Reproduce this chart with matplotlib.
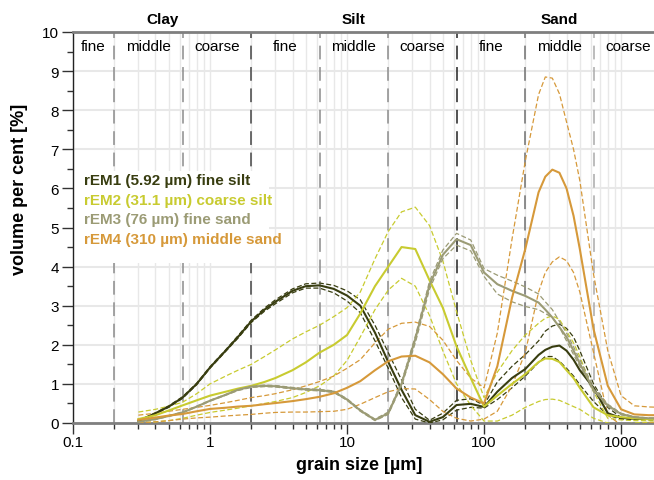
import numpy as np
import matplotlib.pyplot as plt
from matplotlib.patches import Rectangle
from matplotlib.ticker import FixedLocator, LogLocator, NullFormatter

plt.rcParams['font.family'] = ['Liberation Sans', 'DejaVu Sans']

# grain size classes (µm)
size_um = [0.3, 0.4, 0.5, 0.63, 0.8, 1, 1.3, 1.6, 2, 2.5, 3, 4, 5, 6.3, 8,
           10, 12.5, 16, 20, 25, 31.5, 40, 50, 63, 80, 100,
           125, 160, 200, 250, 280, 315, 355, 400, 450, 500, 630, 800,
           1000, 1250, 1600, 2000]

# robust end-members: mean and the two bounds (volume %)
rem1 = [0.05, 0.25, 0.42, 0.65, 1.0, 1.42, 1.85, 2.2, 2.6, 2.9, 3.1, 3.38, 3.5, 3.52, 3.43,
        3.26, 3.0, 2.31, 1.56, 0.85, 0.2, 0.03, 0.15, 0.46, 0.49, 0.41,
        0.8, 1.15, 1.38, 1.74, 1.87, 1.95, 1.98, 1.85, 1.62, 1.35, 0.9, 0.25,
        0.13, 0.11, 0.1, 0.1]
rem1_hi = [0.06, 0.26, 0.44, 0.67, 1.02, 1.44, 1.87, 2.23, 2.63, 2.94, 3.15, 3.43, 3.56, 3.58, 3.52,
           3.38, 3.15, 2.5, 1.8, 1.1, 0.35, 0.07, 0.25, 0.58, 0.62, 0.46,
           1.05, 1.45, 1.75, 2.1, 2.35, 2.48, 2.53, 2.42, 2.2, 1.85, 1.0, 0.4,
           0.14, 0.11, 0.1, 0.1]
rem1_lo = [0.04, 0.24, 0.4, 0.63, 0.98, 1.4, 1.83, 2.17, 2.57, 2.86, 3.05, 3.33, 3.45, 3.45, 3.33,
           3.12, 2.82, 2.1, 1.4, 0.65, 0.1, 0.0, 0.08, 0.33, 0.4, 0.38,
           0.6, 0.9, 1.2, 1.55, 1.7, 1.7, 1.58, 1.4, 1.2, 0.98, 0.55, 0.2,
           0.1, 0.09, 0.09, 0.09]

rem2 = [0.1, 0.2, 0.32, 0.45, 0.58, 0.7, 0.8, 0.88, 0.95, 1.05, 1.15, 1.35, 1.55, 1.8, 2.0,
        2.25, 2.8, 3.5, 4.0, 4.5, 4.45, 3.65, 2.95, 1.96, 1.15, 0.42,
        0.7, 1.0, 1.25, 1.56, 1.65, 1.64, 1.56, 1.35, 1.15, 0.9, 0.4, 0.2,
        0.15, 0.12, 0.1, 0.1]
rem2_hi = [0.28, 0.35, 0.43, 0.53, 0.75, 1.0, 1.2, 1.35, 1.5, 1.7, 1.87, 2.15, 2.33, 2.5, 2.72,
           2.95, 3.35, 4.2, 4.9, 5.4, 5.52, 5.05, 4.15, 2.85, 1.6, 0.65,
           1.3, 1.85, 2.25, 2.55, 2.68, 2.74, 2.65, 2.35, 2.05, 1.7, 0.8, 0.12,
           0.08, 0.06, 0.06, 0.06]
rem2_lo = [0.0, 0.03, 0.06, 0.12, 0.2, 0.27, 0.33, 0.38, 0.44, 0.5, 0.55, 0.65, 0.78, 0.95, 1.2,
           1.6, 2.2, 2.9, 3.4, 3.7, 3.5, 2.75, 1.85, 1.0, 0.45, 0.05,
           0.05, 0.2, 0.4, 0.55, 0.6, 0.61, 0.58, 0.5, 0.42, 0.35, 0.12, 0.0,
           -0.04, 0.0, 0.02, 0.03]

rem3 = [0.03, 0.1, 0.18, 0.27, 0.42, 0.57, 0.72, 0.85, 0.93, 0.95, 0.94, 0.89, 0.86, 0.84, 0.8,
        0.6, 0.32, 0.08, 0.25, 1.0, 2.15, 3.53, 4.3, 4.7, 4.55, 3.85,
        3.55, 3.38, 3.25, 3.08, 2.9, 2.7, 2.45, 2.2, 1.85, 1.52, 0.85, 0.45,
        0.23, 0.15, 0.12, 0.12]
rem3_hi = [0.04, 0.11, 0.19, 0.28, 0.43, 0.58, 0.73, 0.87, 0.95, 0.97, 0.96, 0.91, 0.88, 0.86, 0.82,
           0.62, 0.34, 0.1, 0.28, 1.05, 2.22, 3.62, 4.42, 4.85, 4.68, 3.95,
           3.78, 3.63, 3.48, 3.3, 3.1, 2.9, 2.6, 2.3, 1.95, 1.62, 0.92, 0.48,
           0.25, 0.16, 0.13, 0.13]
rem3_lo = [0.02, 0.09, 0.17, 0.26, 0.41, 0.56, 0.71, 0.83, 0.91, 0.93, 0.92, 0.87, 0.84, 0.82, 0.78,
           0.58, 0.3, 0.06, 0.22, 0.95, 2.05, 3.42, 4.2, 4.55, 4.4, 3.75,
           3.3, 3.1, 2.98, 2.9, 2.8, 2.7, 2.45, 2.1, 1.75, 1.45, 0.8, 0.42,
           0.21, 0.14, 0.11, 0.11]

rem4 = [0.08, 0.14, 0.19, 0.23, 0.3, 0.36, 0.39, 0.42, 0.44, 0.48, 0.51, 0.56, 0.61, 0.67, 0.76,
        0.9, 1.07, 1.35, 1.58, 1.7, 1.72, 1.55, 1.25, 0.88, 0.65, 0.5,
        1.45, 3.2, 4.45, 5.9, 6.3, 6.48, 6.4, 6.0, 5.3, 4.45, 2.4, 0.95,
        0.35, 0.22, 0.2, 0.2]
rem4_hi = [0.2, 0.25, 0.3, 0.35, 0.4, 0.45, 0.52, 0.58, 0.65, 0.7, 0.75, 0.85, 0.95, 1.06, 1.2,
           1.4, 1.62, 2.05, 2.4, 2.55, 2.58, 2.47, 2.12, 1.6, 1.15, 0.9,
           2.3, 4.7, 6.7, 8.4, 8.85, 8.82, 8.42, 7.7, 7.0, 6.2, 3.8, 1.85,
           0.7, 0.44, 0.41, 0.4]
rem4_lo = [0.0, 0.03, 0.06, 0.1, 0.13, 0.15, 0.18, 0.2, 0.22, 0.25, 0.27, 0.28, 0.28, 0.29, 0.3,
           0.35, 0.48, 0.65, 0.8, 0.88, 0.87, 0.6, 0.3, 0.12, 0.05, 0.1,
           0.3, 0.95, 1.8, 3.35, 3.85, 4.12, 4.25, 4.15, 3.85, 3.35, 1.8, 0.2,
           -0.05, -0.03, 0.0, 0.02]

labels = ['rEM1 (5.92 µm) fine silt', 'rEM2 (31.1 µm) coarse silt',
          'rEM3 (76 µm) fine sand', 'rEM4 (310 µm) middle sand']
colors = ['#383d10', '#c8cb30', '#9b9b75', '#d6993a']

# grain size classification
class_bounds = [0.2, 0.63, 2, 6.3, 20, 63, 200, 630]
bound_colors = ['#8c8c8c', '#8c8c8c', '#444444', '#8c8c8c', '#8c8c8c', '#222222', '#707070', '#aaaaaa']
sub_edges = [0.1, 0.2, 0.63, 2, 6.3, 20, 63, 200, 630, 2000]
sub_names = ['fine', 'middle', 'coarse'] * 3
main_edges = [0.1, 2, 63, 2000]
main_names = ['Clay', 'Silt', 'Sand']

fig = plt.figure(figsize=[6.54, 4.81], dpi=100)
ax = fig.add_axes([73 / 654, 57 / 481, 589.3 / 654, 391 / 481])

ax.set_xscale('log')
ax.set_xlim(0.1, 2000)
ax.set_ylim(0, 10)

# grid
ax.xaxis.set_major_locator(FixedLocator([0.1, 1, 10, 100, 1000]))
ax.set_xticklabels(['0.1', '1', '10', '100', '1000'])
ax.xaxis.set_minor_locator(LogLocator(base=10, subs=np.arange(2, 10)))
ax.xaxis.set_minor_formatter(NullFormatter())
ax.set_yticks(range(0, 11))
ax.set_yticks(np.arange(0.5, 10, 1), minor=True)
ax.grid(which='both', axis='x', color='#e8e8e8', lw=1.0, zorder=0)
ax.grid(which='major', axis='y', color='#e8e8e8', lw=1.5, zorder=0)
ax.set_axisbelow(True)

for xb, cb in zip(class_bounds, bound_colors):
    ax.axvline(xb, color=cb, lw=1.1, ls=(0, (9, 5)), zorder=1)

# white box behind the labels
ax.add_patch(Rectangle((0.1, 4.1), 2.6, 2.35, facecolor='white', edgecolor='none', zorder=1.5))

series = [(rem1, rem1_hi, rem1_lo), (rem2, rem2_hi, rem2_lo),
          (rem3, rem3_hi, rem3_lo), (rem4, rem4_hi, rem4_lo)]
for (mean, hi, lo), c in zip(series, colors):
    ax.plot(size_um, hi, color=c, lw=0.9, ls=(0, (4, 2)), zorder=3)
    ax.plot(size_um, lo, color=c, lw=0.9, ls=(0, (4, 2)), zorder=3)
    ax.plot(size_um, mean, color=c, lw=1.5, zorder=4)

for i, (lab, c) in enumerate(zip(labels, colors)):
    ax.text(0.12, 6.21 - 0.5 * i, lab, color=c, fontsize=11, fontweight='bold',
            va='center', ha='left', zorder=5)

# classification labels
for k, name in enumerate(sub_names):
    xc = np.sqrt(sub_edges[k] * sub_edges[k + 1])
    ax.text(xc, 9.64, name, fontsize=11, ha='center', va='center', zorder=5)
for k, name in enumerate(main_names):
    xc = np.sqrt(main_edges[k] * main_edges[k + 1])
    ax.text(xc, 10.33, name, fontsize=11, fontweight='bold', ha='center', va='center',
            clip_on=False)

# spines and ticks
for s in ['top', 'bottom']:
    ax.spines[s].set_color('#7f7f7f')
    ax.spines[s].set_linewidth(2)
ax.spines['right'].set_visible(False)
ax.spines['left'].set_color('#222222')
ax.spines['left'].set_linewidth(1)
ax.tick_params(which='major', direction='out', length=8, width=1, color='#333333',
               labelsize=11)
ax.tick_params(which='minor', direction='out', length=4, width=1, color='#333333')
ax.tick_params(axis='x', which='major', pad=1)
ax.tick_params(axis='y', which='major', pad=2)

ax.set_xlabel('grain size [µm]', fontsize=13, fontweight='bold', labelpad=5)
ax.set_ylabel('volume per cent [%]', fontsize=13, fontweight='bold', labelpad=10)
ax.xaxis.label.set_x(0.485)
ax.yaxis.label.set_y(0.6)

fig.savefig('out.png', dpi=100)
